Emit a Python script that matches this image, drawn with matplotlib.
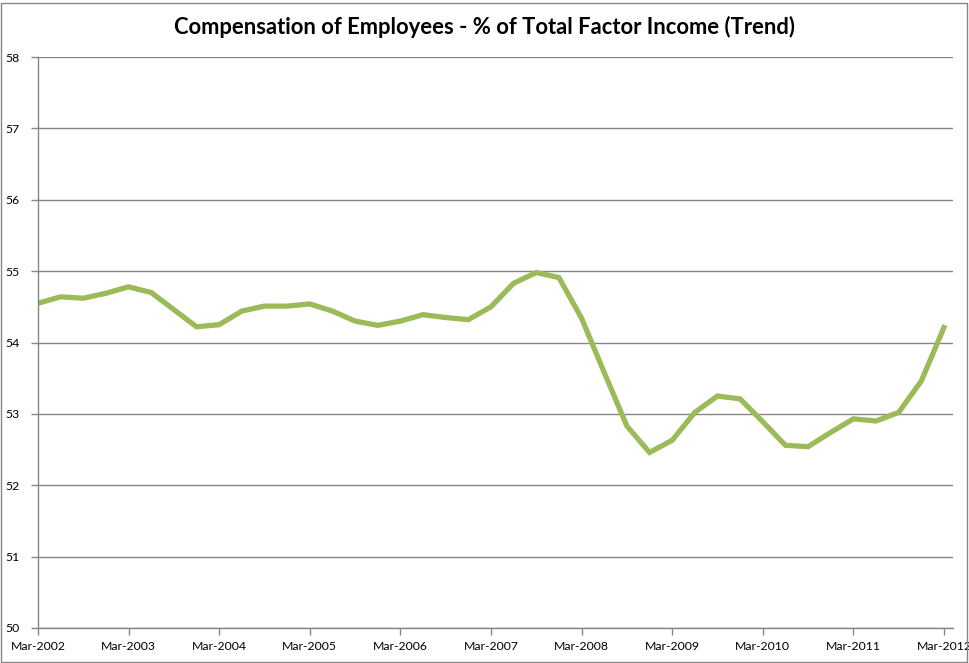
import matplotlib
matplotlib.use('Agg')
import matplotlib.pyplot as plt
from matplotlib.patches import Rectangle

# quarterly trend values, Mar-2002 .. Mar-2012
values = [54.55, 54.64, 54.62, 54.69, 54.78, 54.70, 54.46, 54.22, 54.25, 54.44,
          54.51, 54.51, 54.54, 54.44, 54.30, 54.24, 54.30, 54.39, 54.35, 54.32,
          54.50, 54.83, 54.98, 54.91, 54.34, 53.58, 52.83, 52.46, 52.63, 53.02,
          53.25, 53.21, 52.89, 52.56, 52.54, 52.74, 52.93, 52.90, 53.02, 53.46,
          54.21]
years = list(range(2002, 2013))
tick_labels = ['Mar-%d' % y for y in years]
title = 'Compensation of Employees - % of Total Factor Income (Trend)'

plt.rcParams['font.family'] = ['Lato', 'DejaVu Sans']

fig = plt.figure(figsize=(9.69, 6.63), dpi=100)
ax = fig.add_axes([38 / 969, 1 - 628 / 663, (953 - 38) / 969, (628 - 57) / 663])

xs = list(range(len(values)))
ax.plot(xs, values, color='#9BBB59', linewidth=3.8, solid_joinstyle='miter')

ax.set_xlim(0, 40.4)
ax.set_ylim(50, 58)
ax.set_yticks(range(50, 59))
ax.set_xticks([4 * i for i in range(len(years))])
ax.set_xticklabels(tick_labels)
ax.grid(axis='y', color='#868686', linewidth=1)
ax.set_axisbelow(True)

for s in ['top', 'right']:
    ax.spines[s].set_visible(False)
for s in ['left', 'bottom']:
    ax.spines[s].set_color('#868686')
    ax.spines[s].set_linewidth(1)

ax.tick_params(axis='both', colors='#868686', length=5, width=1, labelsize=8.8,
               labelcolor='black')
ax.tick_params(axis='x', pad=4)
ax.tick_params(axis='y', pad=8)

fig.text(484 / 969, 1 - 27 / 663, title, ha='center', va='center',
         fontsize=15.8, fontweight='bold')

fig.patches.append(Rectangle((0.5 / 969, 1.5 / 663), 966 / 969, 659 / 663,
                             transform=fig.transFigure, fill=False,
                             edgecolor='#868686', linewidth=1))

fig.savefig('out.png', dpi=100)
